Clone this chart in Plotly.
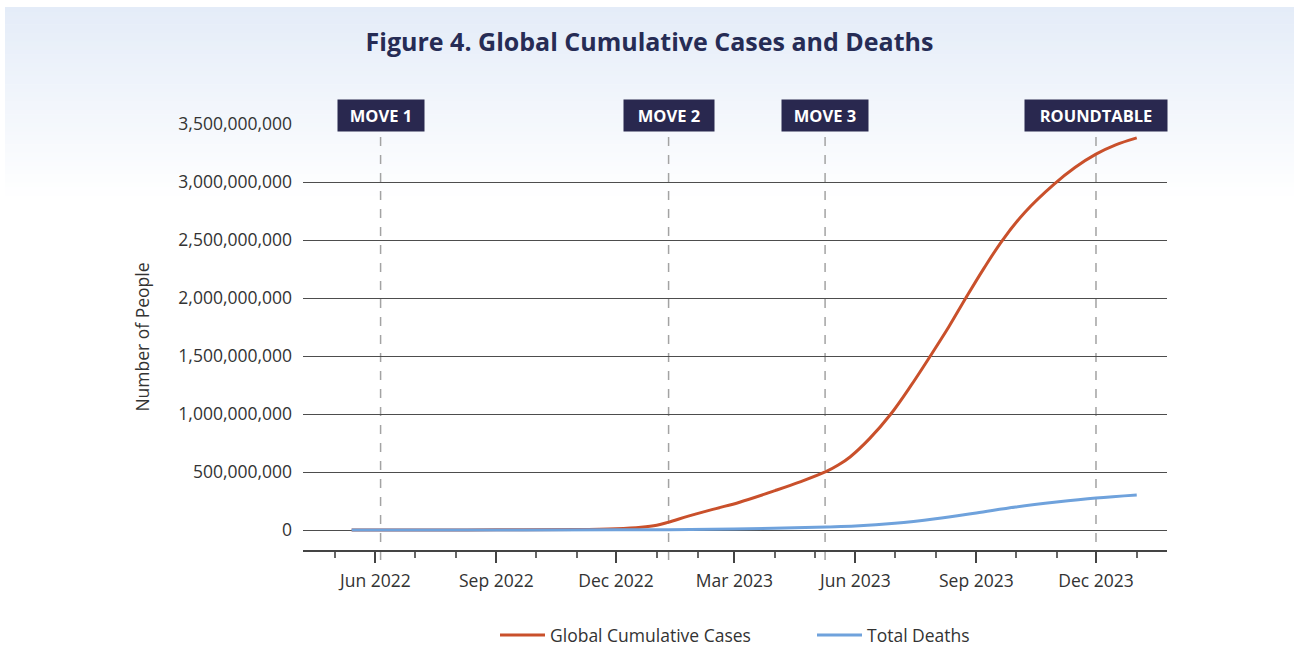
import plotly.graph_objects as go

# ---- data ----
case_dates = ["2022-05-14", "2022-07-01", "2022-09-01", "2022-11-01", "2022-12-01",
              "2022-12-20", "2023-01-01", "2023-01-10", "2023-01-25", "2023-02-15",
              "2023-03-05", "2023-04-01", "2023-04-20", "2023-05-10", "2023-05-19",
              "2023-05-28", "2023-06-12", "2023-06-28", "2023-07-13", "2023-07-28",
              "2023-08-11", "2023-08-24", "2023-09-07", "2023-09-21", "2023-10-08",
              "2023-10-30", "2023-11-15", "2023-12-01", "2023-12-16", "2024-01-01"]
cases_m = [0, 0.5, 1.5, 4, 12,
           25, 42, 68, 120, 185,
           240, 340, 415, 505, 560,
           630, 790, 1000, 1240, 1500,
           1750, 2000, 2260, 2500, 2740,
           2980, 3125, 3240, 3320, 3380]

death_dates = ["2022-05-14", "2022-09-01", "2022-12-01", "2023-01-10", "2023-03-01",
               "2023-05-10", "2023-06-01", "2023-07-01", "2023-08-01", "2023-09-01",
               "2023-10-01", "2023-11-01", "2023-12-01", "2024-01-01"]
deaths_m = [0, 0.3, 1.5, 3, 9,
            27, 35, 58, 97, 147,
            198, 241, 276, 302]

cases = [v * 1e6 for v in cases_m]
deaths = [v * 1e6 for v in deaths_m]

event_labels = ["MOVE 1", "MOVE 2", "MOVE 3", "ROUNDTABLE"]
event_dates = ["2022-06-05", "2023-01-10", "2023-05-09", "2023-12-01"]
event_box_widths = [86, 90, 86, 142]

title_text = "Figure 4. Global Cumulative Cases and Deaths"
y_title = "Number of People"
series_names = ["Global Cumulative Cases", "Total Deaths"]

FONT = "Open Sans"
NAVY = "#29284f"
ORANGE = "#c9502b"
BLUE = "#6fa2dc"
TXT = "#333333"

fig = go.Figure()
fig.add_trace(go.Scatter(x=case_dates, y=cases, name=series_names[0], mode="lines",
                         line=dict(color=ORANGE, width=3, shape="spline", smoothing=1.0)))
fig.add_trace(go.Scatter(x=death_dates, y=deaths, name=series_names[1], mode="lines",
                         line=dict(color=BLUE, width=3, shape="spline", smoothing=1.0)))

shapes = []
W, H = 1299, 650
L, R, T, B = 303, 132, 124, 100
pw, ph = W - L - R, H - T - B
def px_x(x):
    return (x - L) / pw
def px_y(y):
    return (H - B - y) / ph

# background gradient band at the top (light blue fading to white)
top_c = (228, 236, 248)
n = 45
g_top, g_bot = 7, 200
for i in range(n):
    y0 = g_top + (g_bot - g_top) * i / n
    y1 = g_top + (g_bot - g_top) * (i + 1) / n + 0.6
    t = (i + 0.5) / n
    c = tuple(int(round(top_c[k] + (255 - top_c[k]) * t)) for k in range(3))
    shapes.append(dict(type="rect", xref="paper", yref="paper", layer="below",
                       x0=px_x(5), x1=px_x(1294), y0=px_y(y1), y1=px_y(y0),
                       fillcolor="rgb(%d,%d,%d)" % c, line=dict(width=0)))

annotations = []
for lab, d, bw in zip(event_labels, event_dates, event_box_widths):
    shapes.append(dict(type="line", xref="x", yref="paper", layer="between",
                       x0=d, x1=d, y0=px_y(560), y1=px_y(133),
                       line=dict(color="#a3a3a3", width=1.5, dash="dash")))
    annotations.append(dict(x=d, xref="x", y=px_y(115.5), yref="paper",
                            text="<b>%s</b>" % lab, showarrow=False,
                            xanchor="center", yanchor="middle",
                            width=bw, height=31, borderpad=0,
                            bgcolor=NAVY, align="center",
                            font=dict(family=FONT, size=16.5, color="white")))

fig.update_layout(
    width=W, height=H,
    margin=dict(l=L, r=R, t=T, b=B, autoexpand=False),
    paper_bgcolor="white",
    plot_bgcolor="rgba(0,0,0,0)",
    font=dict(family=FONT, color=TXT, size=17),
    title=dict(text="<b>%s</b>" % title_text, x=0.5, xref="container",
               y=1 - 42 / H, yref="container", xanchor="center", yanchor="middle",
               font=dict(family=FONT, size=25, color="#262c55")),
    showlegend=True,
    legend=dict(orientation="h", x=px_x(495), xanchor="left", y=px_y(635), yanchor="middle",
                font=dict(family=FONT, size=17.5, color=TXT),
                itemwidth=45, entrywidth=257, entrywidthmode="pixels",
                tracegroupgap=0, bgcolor="rgba(0,0,0,0)"),
    shapes=shapes,
    annotations=annotations,
    hovermode=False,
)
fig.update_xaxes(
    type="date",
    range=["2022-04-07", "2024-01-24"],
    tick0="2022-06-01", dtick="M3", tickformat="%b %Y",
    ticks="outside", ticklen=11, tickwidth=2, tickcolor="#444444",
    showline=True, linecolor="#444444", linewidth=2,
    showgrid=False, zeroline=False,
    ticklabelstandoff=3,
    tickfont=dict(family=FONT, size=17.5, color=TXT),
    minor=dict(dtick="M1", tick0="2022-06-01", ticks="outside", ticklen=6,
               tickwidth=1.5, tickcolor="#666666", showgrid=False),
)
fig.update_yaxes(
    range=[-172e6, 3.5e9],
    tick0=0, dtick=5e8, tickformat=",",
    showgrid=True, gridcolor="#4d4d4d", gridwidth=1,
    zeroline=False, showline=False, ticks="",
    ticklabelstandoff=10,
    tickfont=dict(family=FONT, size=17.5, color=TXT),
    title=dict(text=y_title, standoff=24, font=dict(family=FONT, size=17.5, color=TXT)),
)

fig.write_html("out.html", config={"displayModeBar": False},
               post_script="document.body.style.margin='0';")
